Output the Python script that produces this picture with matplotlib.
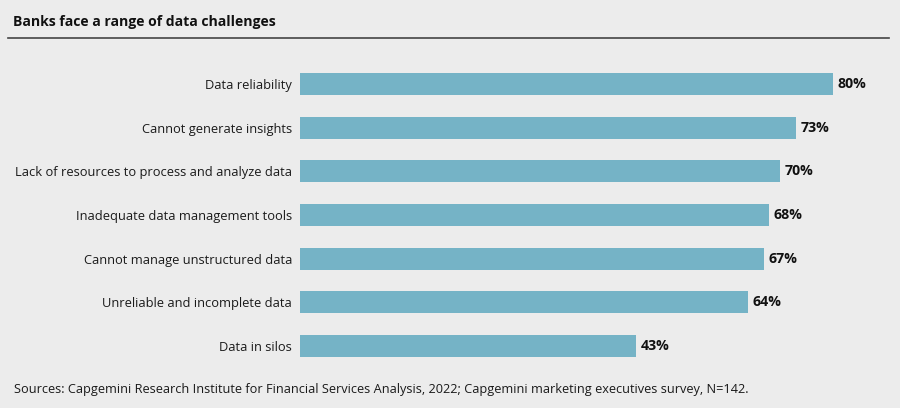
import matplotlib
matplotlib.use("Agg")
import matplotlib.pyplot as plt

categories = ["Data reliability", "Cannot generate insights",
              "Lack of resources to process and analyze data",
              "Inadequate data management tools",
              "Cannot manage unstructured data",
              "Unreliable and incomplete data", "Data in silos"]
values = [80, 73, 70, 68, 67, 64, 43]
value_labels = ["80%", "73%", "70%", "68%", "67%", "64%", "43%"]
title = "Banks face a range of data challenges"
source = ("Sources: Capgemini Research Institute for Financial Services Analysis, 2022; "
          "Capgemini marketing executives survey, N=142.")

BG = "#ececec"
BAR = "#75b3c6"
TXT = "#111111"
FONT = "Open Sans"
plt.rcParams["font.family"] = [FONT, "DejaVu Sans"]

W, H = 900, 408
fig = plt.figure(figsize=(W / 100, H / 100), dpi=100, facecolor=BG)

# axes positioned in pixel terms
x0, x1 = 300, 900
y_top, y_bot = 62.2, 367.8
ax = fig.add_axes([x0 / W, (H - y_bot) / H, (x1 - x0) / W, (y_bot - y_top) / H])
ax.set_facecolor(BG)

base = -20.2
px_per_unit = 5.32
ax.set_xlim(base, base + (x1 - x0) / px_per_unit)
ax.set_ylim(len(values) - 0.5, -0.5)

pos = list(range(len(values)))
ax.barh(pos, [v - base for v in values], left=base, height=0.5, color=BAR)

for p, v, lab in zip(pos, values, value_labels):
    ax.annotate(lab, (v, p), xytext=(3.3, 0), textcoords="offset points",
                va="center", ha="left", fontsize=10.2, fontweight="bold", color=TXT)

ax.set_yticks(pos)
ax.set_yticklabels(categories, fontsize=9.3, color="#1a1a1a")
ax.tick_params(axis="y", length=0, pad=5.8)
ax.set_xticks([])
for s in ax.spines.values():
    s.set_visible(False)

fig.text(13 / W, 1 - 22 / H, title, fontsize=10.1, fontweight="bold", color=TXT,
         va="center", ha="left")
fig.add_artist(plt.Line2D([8 / W, 889 / W], [1 - 38.3 / H] * 2, color="#444444", lw=1.2))
fig.text(14 / W, 1 - 390 / H, source, fontsize=9.17, color="#1a1a1a", va="center", ha="left")

fig.savefig("out.png", dpi=100, facecolor=BG)
